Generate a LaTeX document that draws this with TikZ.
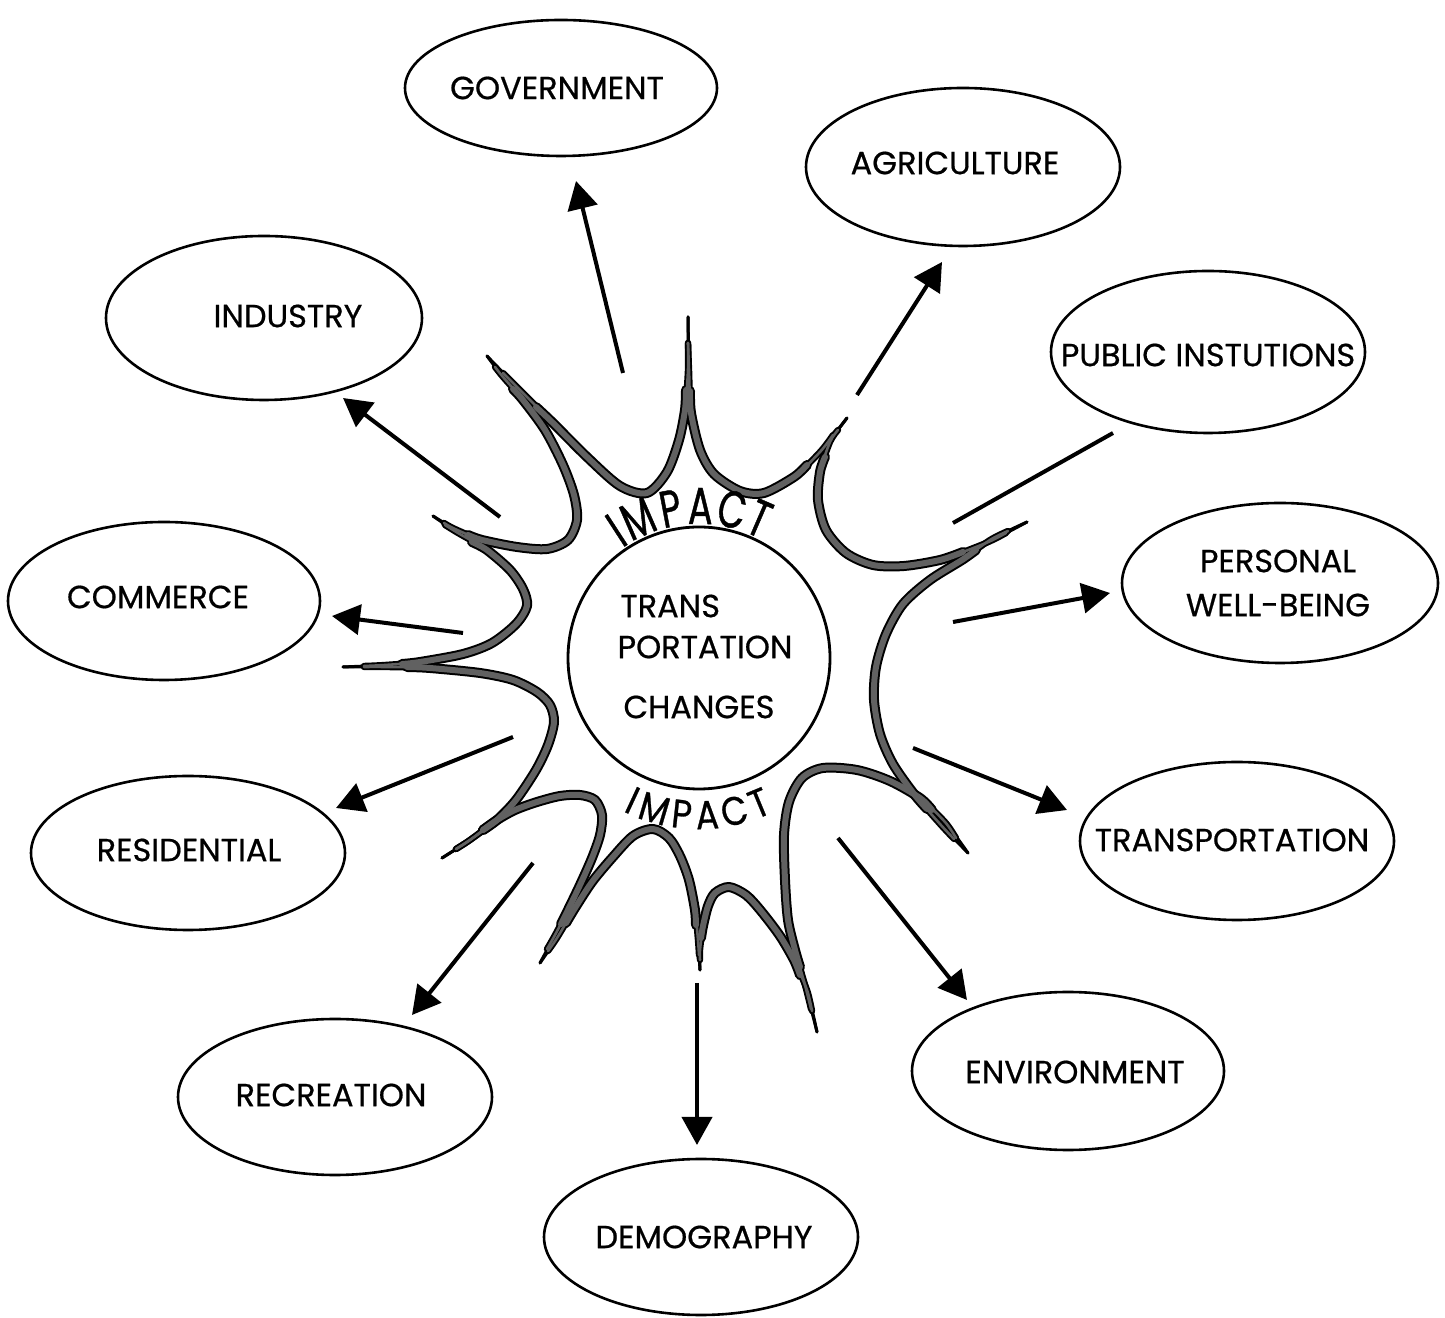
\documentclass[tikz,border=0pt]{standalone}
\usepackage{fontspec}
\setmainfont{Poppins}[FakeBold=0.6]
\newfontfamily\impactbig{Poppins}[FakeStretch=0.7, FakeBold=0.8]
\newfontfamily\impactsmall{Poppins}[FakeStretch=0.86, FakeBold=0.7]
\usetikzlibrary{arrows.meta,shapes.geometric}

\newcommand\labfont{\fontsize{16}{22}\selectfont}
\newcommand\topfont{\impactbig\fontsize{26}{26}\selectfont}
\newcommand\lowfont{\impactsmall\fontsize{20}{20}\selectfont}

\tikzset{
  % burst strokes, layered so that they thin out towards the points
  tipline/.style={line width=1.5pt, line cap=round, line join=round},
  midline/.style={line width=3.2pt, line cap=round, line join=round},
  midcore/.style={line width=1.3pt, black!62, line cap=round, line join=round},
  bodyline/.style={line width=5pt, line cap=round, line join=round},
  bodycore/.style={line width=3pt, black!62, line cap=round, line join=round},
  blob/.style={draw, ellipse, line width=1.3pt, inner sep=0pt},
  lab/.style={font=\labfont, inner sep=0pt, align=center},
  toplet/.style={font=\topfont, inner sep=0pt, anchor=base},
  lowlet/.style={font=\lowfont, inner sep=0pt, anchor=base},
  arr/.style={line width=2pt, -{Triangle[length=14pt,width=15pt]}},
  ray/.style={line width=2pt},
}

% the eleven curves of the burst, each running from point to point
\newcommand\fullstrokes[1]{%
\draw[#1] plot[smooth] coordinates {(487,961) (520,927) (553,894) (587,860) (620,831) (647,824) (667,845) (679,877) (685,907) (688,947) (688,1000)};
\draw[#1] plot[smooth] coordinates {(688,1000) (689,947) (691,904) (700,867) (714,843) (740,826) (764,824) (794,840) (820,865) (847,899)};
\draw[#1] plot[smooth] coordinates {(847,899) (830,875) (820,845) (818,817) (826,787) (846,764) (873,752) (904,751) (940,757) (986,774) (1027,795)};
\draw[#1] plot[smooth] coordinates {(1027,795) (990,777) (962,757) (930,737) (903,713) (886,683) (876,650) (874,617) (880,583) (893,553) (914,523) (940,493) (968,464)};
\draw[#1] plot[smooth] coordinates {(968,464) (945,495) (920,519) (890,536) (857,547) (823,549) (802,539) (789,515) (784,482) (785,437) (788,397) (795,367) (805,332) (817,285)};
\draw[#1] plot[smooth] coordinates {(817,285) (807,327) (794,357) (780,381) (761,406) (746,422) (729,430) (715,424) (708,411) (703,391) (700,367) (700,347)};
\draw[#1] plot[smooth] coordinates {(700,347) (698,377) (695,407) (689,437) (680,461) (669,479) (653,488) (633,481) (612,459) (592,435) (575,409) (557,379) (540,354)};
\draw[#1] plot[smooth] coordinates {(540,354) (555,382) (567,405) (580,432) (592,459) (600,482) (602,502) (595,517) (580,522) (560,521) (537,515) (515,507) (497,497) (470,477) (442,459)};
\draw[#1] plot[smooth] coordinates {(442,459) (470,477) (497,497) (516,517) (536,547) (548,572) (554,595) (550,612) (537,625) (513,637) (480,644) (430,649) (385,650) (343,650)};
\draw[#1] plot[smooth] coordinates {(343,650) (385,652) (420,655) (463,663) (492,674) (516,693) (527,711) (523,728) (510,747) (487,767) (458,784) (433,801)};
\draw[#1] plot[smooth] coordinates {(433,801) (455,788) (482,777) (517,770) (547,768) (568,777) (577,797) (574,822) (563,852) (545,887) (523,917) (503,940) (487,961)};
}
% the same curves, stopping short of the points
\newcommand\midstrokes[1]{%
\draw[#1] plot[smooth] coordinates {(503,944) (520,927) (553,894) (587,860) (620,831) (647,824) (667,845) (679,877) (685,907) (688,947) (688,974)};
\draw[#1] plot[smooth] coordinates {(688,974) (689,947) (691,904) (700,867) (714,843) (740,826) (764,824) (794,840) (820,865) (833,882)};
\draw[#1] plot[smooth] coordinates {(838,887) (830,875) (820,845) (818,817) (826,787) (846,764) (873,752) (904,751) (940,757) (986,774) (1006,784)};
\draw[#1] plot[smooth] coordinates {(1008,786) (990,777) (962,757) (930,737) (903,713) (886,683) (876,650) (874,617) (880,583) (893,553) (914,523) (940,493) (954,478)};
\draw[#1] plot[smooth] coordinates {(956,479) (945,495) (920,519) (890,536) (857,547) (823,549) (802,539) (789,515) (784,482) (785,437) (788,397) (795,367) (805,332) (811,308)};
\draw[#1] plot[smooth] coordinates {(812,306) (807,327) (794,357) (780,381) (761,406) (746,422) (729,430) (715,424) (708,411) (703,391) (700,367) (700,357)};
\draw[#1] plot[smooth] coordinates {(699,362) (698,377) (695,407) (689,437) (680,461) (669,479) (653,488) (633,481) (612,459) (592,435) (575,409) (557,379) (548,366)};
\draw[#1] plot[smooth] coordinates {(547,368) (555,382) (567,405) (580,432) (592,459) (600,482) (602,502) (595,517) (580,522) (560,521) (537,515) (515,507) (497,497) (470,477) (456,468)};
\draw[#1] plot[smooth] coordinates {(456,468) (470,477) (497,497) (516,517) (536,547) (548,572) (554,595) (550,612) (537,625) (513,637) (480,644) (430,649) (385,650) (364,650)};
\draw[#1] plot[smooth] coordinates {(364,651) (385,652) (420,655) (463,663) (492,674) (516,693) (527,711) (523,728) (510,747) (487,767) (458,784) (445,792)};
\draw[#1] plot[smooth] coordinates {(444,794) (455,788) (482,777) (517,770) (547,768) (568,777) (577,797) (574,822) (563,852) (545,887) (523,917) (503,940) (495,950)};
}
% the heavy middle part of each curve
\newcommand\bodystrokes[1]{%
\draw[#1] plot[smooth] coordinates {(536,910) (553,894) (587,860) (620,831) (647,824) (667,845) (679,877) (685,907) (686,927)};
\draw[#1] plot[smooth] coordinates {(690,926) (691,904) (700,867) (714,843) (740,826) (764,824) (794,840) (807,852)};
\draw[#1] plot[smooth] coordinates {(825,860) (820,845) (818,817) (826,787) (846,764) (873,752) (904,751) (940,757) (963,765)};
\draw[#1] plot[smooth] coordinates {(976,767) (962,757) (930,737) (903,713) (886,683) (876,650) (874,617) (880,583) (893,553) (914,523) (927,508)};
\draw[#1] plot[smooth] coordinates {(932,507) (920,519) (890,536) (857,547) (823,549) (802,539) (789,515) (784,482) (785,437) (788,397) (795,367) (800,350)};
\draw[#1] plot[smooth] coordinates {(800,342) (794,357) (780,381) (761,406) (746,422) (729,430) (715,424) (708,411) (703,391) (701,379)};
\draw[#1] plot[smooth] coordinates {(696,392) (695,407) (689,437) (680,461) (669,479) (653,488) (633,481) (612,459) (592,435) (575,409) (566,394)};
\draw[#1] plot[smooth] coordinates {(561,393) (567,405) (580,432) (592,459) (600,482) (602,502) (595,517) (580,522) (560,521) (537,515) (515,507) (497,497) (483,487)};
\draw[#1] plot[smooth] coordinates {(483,487) (497,497) (516,517) (536,547) (548,572) (554,595) (550,612) (537,625) (513,637) (480,644) (430,649) (407,650)};
\draw[#1] plot[smooth] coordinates {(402,653) (420,655) (463,663) (492,674) (516,693) (527,711) (523,728) (510,747) (487,767) (472,775)};
\draw[#1] plot[smooth] coordinates {(468,782) (482,777) (517,770) (547,768) (568,777) (577,797) (574,822) (563,852) (545,887) (523,917) (513,928)};
}

\begin{document}
\begin{tikzpicture}[x=0.5pt, y=0.5pt]
\useasboundingbox (0,0) rectangle (1445,1317);

% ---- the burst around the hub ----
\fullstrokes{tipline}
\midstrokes{midline}
\bodystrokes{bodyline}
\midstrokes{midcore}
\bodystrokes{bodycore}

% ---- hub ----
\node[draw, circle, line width=1.4pt, minimum size=131pt, inner sep=0pt] (hub) at (699,659) {};
\node[lab, anchor=west] (hubA) at (620,711) {TRANS};
\node[lab] (hubB) at (705,670) {PORTATION};
\node[lab] (hubC) at (699,610) {CHANGES};

% arched word above the hub
\node[toplet, rotate=33] (imT1) at ([shift={(699,659)}]123:134) {I};
\node[toplet, rotate=23.6] (imT2) at ([shift={(699,659)}]113.6:134) {M};
\node[toplet, rotate=10.8] (imT3) at ([shift={(699,659)}]100.8:134) {P};
\node[toplet, rotate=-0.5] (imT4) at ([shift={(699,659)}]89.5:134) {A};
\node[toplet, rotate=-12.6] (imT5) at ([shift={(699,659)}]77.4:134) {C};
\node[toplet, rotate=-23.4] (imT6) at ([shift={(699,659)}]66.6:134) {T};
% arched word below the hub
\node[lowlet, rotate=-25] (imB1) at ([shift={(699,659)}]245:171) {I};
\node[lowlet, rotate=-16.5] (imB2) at ([shift={(699,659)}]253.5:171) {M};
\node[lowlet, rotate=-6.3] (imB3) at ([shift={(699,659)}]263.7:171) {P};
\node[lowlet, rotate=3] (imB4) at ([shift={(699,659)}]273:171) {A};
\node[lowlet, rotate=13] (imB5) at ([shift={(699,659)}]283:171) {C};
\node[lowlet, rotate=22.5] (imB6) at ([shift={(699,659)}]292.5:171) {T};

% ---- sectors ----
\node[blob, minimum width=156pt, minimum height=68pt] (gov) at (561,1229) {};
\node[lab] (govL) at (557,1229) {GOVERNMENT};
\node[blob, minimum width=157pt, minimum height=79pt] (agr) at (963,1150) {};
\node[lab] (agrL) at (955,1154) {AGRICULTURE};
\node[blob, minimum width=158pt, minimum height=82pt] (ind) at (264,999) {};
\node[lab] (indL) at (288,1001) {INDUSTRY};
\node[blob, minimum width=157pt, minimum height=81pt] (pub) at (1208,965) {};
\node[lab] (pubL) at (1208,962) {PUBLIC INSTUTIONS};
\node[blob, minimum width=156pt, minimum height=79pt] (com) at (164,716) {};
\node[lab] (comL) at (158,720) {COMMERCE};
\node[blob, minimum width=158pt, minimum height=80pt] (per) at (1280,734) {};
\node[lab] (perL) at (1278,734) {PERSONAL\\WELL-BEING};
\node[blob, minimum width=157pt, minimum height=77pt] (res) at (188,464) {};
\node[lab] (resL) at (189,467) {RESIDENTIAL};
\node[blob, minimum width=157pt, minimum height=79pt] (tra) at (1237,476) {};
\node[lab] (traL) at (1232,477) {TRANSPORTATION};
\node[blob, minimum width=157pt, minimum height=78pt] (rec) at (335,220) {};
\node[lab] (recL) at (331,222) {RECREATION};
\node[blob, minimum width=156pt, minimum height=79pt] (env) at (1068,246) {};
\node[lab] (envL) at (1075,245) {ENVIRONMENT};
\node[blob, minimum width=157pt, minimum height=78pt] (dem) at (701,80) {};
\node[lab] (demL) at (704,80) {DEMOGRAPHY};

% ---- impact arrows ----
\coordinate (g0) at (623,944);  \coordinate (g1) at (576,1136);
\coordinate (a0) at (857,922);  \coordinate (a1) at (942,1055);
\coordinate (i0) at (500,800);  \coordinate (i1) at (343,919);
\coordinate (p0) at (953,794);  \coordinate (p1) at (1113,884);
\coordinate (c0) at (463,684);  \coordinate (c1) at (332,701);
\coordinate (w0) at (953,695);  \coordinate (w1) at (1110,724);
\coordinate (r0) at (513,580);  \coordinate (r1) at (336,509);
\coordinate (t0) at (913,569);  \coordinate (t1) at (1067,507);
\coordinate (e0) at (533,454);  \coordinate (e1) at (412,302);
\coordinate (d0) at (697,334);  \coordinate (d1) at (697,172);
\coordinate (n0) at (838,479);  \coordinate (n1) at (967,317);

\draw[arr] (g0) -- (g1);
\draw[arr] (a0) -- (a1);
\draw[arr] (i0) -- (i1);
\draw[ray] (p0) -- (p1);
\draw[arr] (c0) -- (c1);
\draw[arr] (w0) -- (w1);
\draw[arr] (r0) -- (r1);
\draw[arr] (t0) -- (t1);
\draw[arr] (e0) -- (e1);
\draw[arr] (d0) -- (d1);
\draw[arr] (n0) -- (n1);
\end{tikzpicture}
\end{document}
